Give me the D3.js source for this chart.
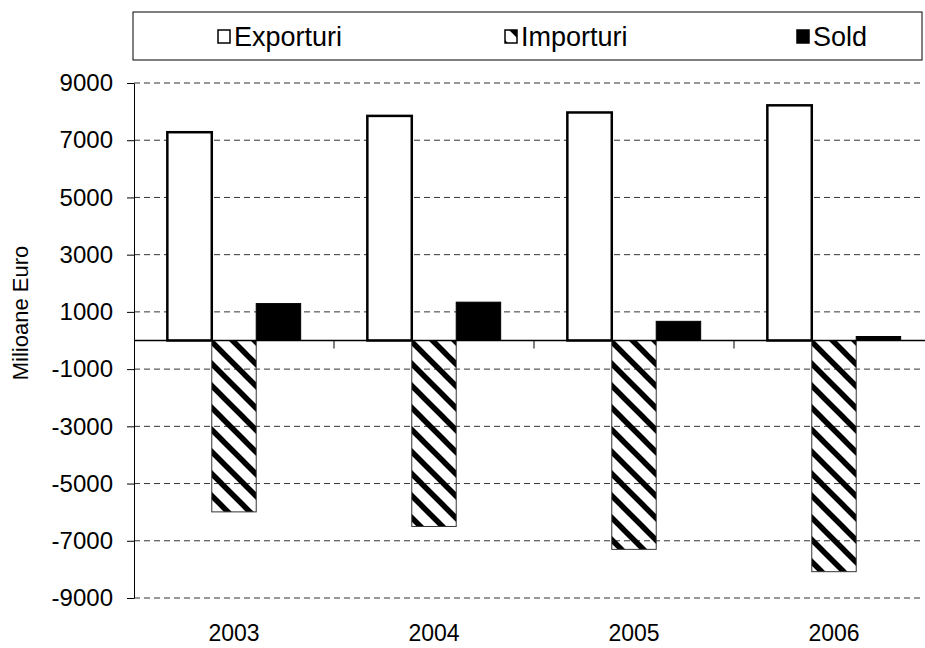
<!DOCTYPE html>
<html>
<head>
<meta charset="utf-8">
<script src="https://cdn.jsdelivr.net/npm/d3@7"></script>
<style>
  body { margin: 0; background: #fff; }
  text { font-family: "Liberation Sans", Arial, sans-serif; }
</style>
</head>
<body>
<div id="chart"></div>
<script>
const years = ["2003", "2004", "2005", "2006"]
const seriesNames = ["Exporturi", "Importuri", "Sold"]
const exporturi = [7280, 7850, 7970, 8220]
const importuri = [-5990, -6500, -7300, -8080]
const sold = [1290, 1340, 670, 140]
const yTicks = [9000, 7000, 5000, 3000, 1000, -1000, -3000, -5000, -7000, -9000]

const width = 925, height = 648
const svg = d3.select("#chart").append("svg")
              .attr("width", width)
              .attr("height", height)

// hatch for Importuri
svg.append("defs").append("pattern")
   .attr("id", "hatch")
   .attr("patternUnits", "userSpaceOnUse")
   .attr("width", 22).attr("height", 22)
   .append("path")
   .attr("d", "M-22,-22L44,44 M0,-22L44,22 M-22,0L22,44")
   .attr("stroke", "#000")
   .attr("stroke-width", 5.5)

const x0 = d3.scaleBand().domain(years).range([134, 934])
const x1 = d3.scaleBand().domain(seriesNames)
             .range([0, x0.bandwidth()])
             .paddingInner(0).paddingOuter(0.75)
const y = d3.scaleLinear().domain([-9000, 9000]).range([598, 83])

// gridlines
svg.append("g").selectAll("line")
   .data(yTicks)
   .join("line")
   .attr("x1", 134).attr("x2", 922)
   .attr("y1", d => y(d)).attr("y2", d => y(d))
   .attr("stroke", "#333")
   .attr("stroke-dasharray", "6,4")

// y axis
const yAxis = svg.append("g")
   .attr("transform", "translate(134,0)")
   .call(d3.axisLeft(y).tickValues(yTicks).tickFormat(d => String(d))
           .tickSize(7).tickSizeOuter(0).tickPadding(14))
yAxis.select(".domain").attr("stroke", "#000")
yAxis.selectAll("line").attr("stroke", "#000")
yAxis.selectAll("text")
     .attr("font-size", 24)
     .attr("fill", "#000")
     .style("font-family", "'Liberation Sans', Arial, sans-serif")

svg.append("text")
   .attr("transform", "translate(28,313) rotate(-90)")
   .attr("text-anchor", "middle")
   .attr("font-size", 22)
   .text("Milioane Euro")

const rows = years.map((yr, i) => ({year: yr, values: [
  {key: "Exporturi", v: exporturi[i]},
  {key: "Importuri", v: importuri[i]},
  {key: "Sold", v: sold[i]}
]}))

const groups = svg.append("g").selectAll("g")
   .data(rows)
   .join("g")
   .attr("transform", d => "translate(" + x0(d.year) + ",0)")

groups.selectAll("rect")
   .data(d => d.values)
   .join("rect")
   .attr("x", d => x1(d.key))
   .attr("width", x1.bandwidth())
   .attr("y", d => y(Math.max(0, d.v)))
   .attr("height", d => Math.abs(y(d.v) - y(0)))
   .attr("fill", d => d.key == "Exporturi" ? "#fff" : d.key == "Importuri" ? "url(#hatch)" : "#000")
   .attr("stroke", d => d.key == "Importuri" ? "#333" : "#000")
   .attr("stroke-width", d => d.key == "Exporturi" ? 2.5 : 1)

// category axis on zero line
svg.append("line")
   .attr("x1", 134).attr("x2", 934)
   .attr("y1", y(0)).attr("y2", y(0))
   .attr("stroke", "#000").attr("stroke-width", 1.5)
svg.append("g").selectAll("line")
   .data(years.slice(1))
   .join("line")
   .attr("x1", d => x0(d)).attr("x2", d => x0(d))
   .attr("y1", y(0)).attr("y2", y(0) + 8)
   .attr("stroke", "#000")

svg.append("g").selectAll("text")
   .data(years)
   .join("text")
   .attr("x", d => x0(d) + x0.bandwidth() / 2)
   .attr("y", 641)
   .attr("text-anchor", "middle")
   .attr("font-size", 23)
   .text(d => d)

// legend
const legend = svg.append("g")
legend.append("rect")
   .attr("x", 133).attr("y", 12)
   .attr("width", 789).attr("height", 48)
   .attr("fill", "#fff").attr("stroke", "#000")
const legendX = [218, 505, 797]
const legendItems = legend.selectAll("g")
   .data(seriesNames)
   .join("g")
   .attr("transform", (d, i) => "translate(" + legendX[i] + ",0)")
legendItems.append("rect")
   .attr("x", 0).attr("y", 30)
   .attr("width", 12).attr("height", 13)
   .attr("fill", d => d == "Exporturi" ? "#fff" : d == "Importuri" ? "url(#hatch)" : "#000")
   .attr("stroke", "#000").attr("stroke-width", 1.5)
legendItems.append("text")
   .attr("x", 16).attr("y", 46)
   .attr("font-size", 27)
   .text(d => d)
</script>
</body>
</html>
